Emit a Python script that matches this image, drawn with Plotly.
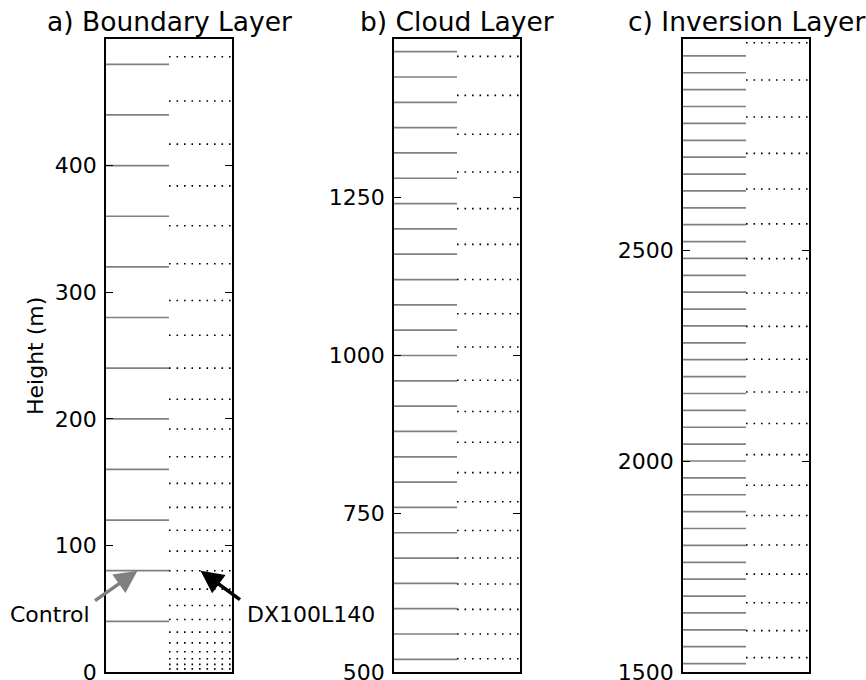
import plotly.graph_objects as go

# Model level heights (m)
control_levels = [
    40, 80, 120, 160, 200, 240, 280, 320, 360, 400, 440, 480, 520, 560, 600,
    640, 680, 720, 760, 800, 840, 880, 920, 960, 1000, 1040, 1080, 1120, 1160,
    1200, 1240, 1280, 1320, 1360, 1400, 1440, 1480, 1520, 1560, 1600, 1640,
    1680, 1720, 1760, 1800, 1840, 1880, 1920, 1960, 2000, 2040, 2080, 2120,
    2160, 2200, 2240, 2280, 2320, 2360, 2400, 2440, 2480, 2520, 2560, 2600,
    2640, 2680, 2720, 2760, 2800, 2840, 2880, 2920, 2960,
]
dx_levels = [
    2.5, 6, 10.5, 16, 23, 31.5, 41.5, 52.5, 65.5, 80, 95.5, 112, 130, 149,
    170, 192, 215.5, 240, 266, 293.5, 322.5, 352.5, 384, 417, 451, 486, 521,
    560, 599, 639, 680, 723.5, 769, 815, 863, 911.5, 961, 1013.5, 1066, 1120,
    1175.5, 1232, 1290, 1349.5, 1411, 1472.5, 1534, 1598, 1664, 1732, 1801,
    1871, 1942.5, 2015, 2089, 2163.5, 2241, 2319, 2398, 2479.5, 2562, 2644.5,
    2729, 2815, 2903, 2991,
]

panel_titles = ["a) Boundary Layer", "b) Cloud Layer", "c) Inversion Layer"]
panel_ranges = [[0, 500], [500, 1500], [1500, 3000]]
panel_ticks = [[0, 100, 200, 300, 400], [500, 750, 1000, 1250], [1500, 2000, 2500]]

W, H = 866, 680
x_domains = [[106 / W, 232 / W], [394 / W, 520 / W], [683 / W, 809 / W]]
y_domain = [1 - 672 / H, 1 - 39 / H]
FONT = "DejaVu Sans"


def segments(levels, x0, x1, lo, hi):
    xs, ys = [], []
    for z in levels:
        if lo < z < hi:
            xs += [x0, x1, None]
            ys += [z, z, None]
    return xs, ys


fig = go.Figure()
for i in range(3):
    lo, hi = panel_ranges[i]
    xa = "x" if i == 0 else f"x{i + 1}"
    ya = "y" if i == 0 else f"y{i + 1}"
    cx, cy = segments(control_levels, 0, 0.5, lo, hi)
    fig.add_trace(go.Scatter(x=cx, y=cy, mode="lines", xaxis=xa, yaxis=ya,
                             line=dict(color="#808080", width=1.7),
                             showlegend=False, hoverinfo="skip"))
    dx, dy = segments(dx_levels, 0.5, 1.0, lo, hi)
    fig.add_trace(go.Scatter(x=dx, y=dy, mode="lines", xaxis=xa, yaxis=ya,
                             line=dict(color="black", width=1.6, dash="1.6px,5.9px"),
                             showlegend=False, hoverinfo="skip"))

    sfx = "" if i == 0 else str(i + 1)
    fig.update_layout({
        f"xaxis{sfx}": dict(domain=x_domains[i], range=[0, 1], anchor=ya,
                            automargin=False,
                            showgrid=False, zeroline=False,
                            showticklabels=False, ticks="",
                            showline=True, mirror=True, linecolor="black",
                            linewidth=1.8, fixedrange=True),
        f"yaxis{sfx}": dict(domain=y_domain, range=panel_ranges[i], anchor=xa,
                            automargin=False,
                            tickvals=panel_ticks[i],
                            ticktext=[str(t) for t in panel_ticks[i]],
                            showgrid=False, zeroline=False, showline=True,
                            mirror="ticks", linecolor="black", linewidth=1.8,
                            ticks="inside", ticklen=7, tickwidth=1,
                            tickcolor="black", ticklabelstandoff=3,
                            ticklabeloverflow="allow",
                            tickfont=dict(family=FONT, size=22, color="black"),
                            fixedrange=True),
    })
    fig.add_annotation(x=sum(x_domains[i]) / 2, y=1 - 21 / H, xref="paper",
                       yref="paper", text=panel_titles[i], showarrow=False,
                       xanchor="center", yanchor="middle",
                       font=dict(family=FONT, size=26.5, color="black"))

# Axis label
fig.add_annotation(x=35 / W, y=1 - 356 / H, xref="paper", yref="paper",
                   text="Height (m)", textangle=-90, showarrow=False,
                   xanchor="center", yanchor="middle",
                   font=dict(family=FONT, size=22, color="black"))

# Arrows pointing at the 80 m level of each grid
fig.add_annotation(x=0.25, y=80, xref="x", yref="y", text="", showarrow=True,
                   ax=-44, ay=31, arrowhead=2, arrowsize=1.3, arrowwidth=3.5,
                   arrowcolor="#808080")
fig.add_annotation(x=50 / W, y=1 - 614 / H, xref="paper", yref="paper",
                   text="Control", showarrow=False, xanchor="center",
                   yanchor="middle", font=dict(family=FONT, size=22, color="black"))
fig.add_annotation(x=0.75, y=80, xref="x", yref="y", text="", showarrow=True,
                   ax=41, ay=30, arrowhead=2, arrowsize=1.3, arrowwidth=3.5,
                   arrowcolor="black")
fig.add_annotation(x=245 / W, y=1 - 614 / H, xref="paper", yref="paper",
                   text="DX100L140", showarrow=False, xanchor="left",
                   yanchor="middle", font=dict(family=FONT, size=22, color="black"))

fig.update_layout(width=W, height=H, margin=dict(l=0, r=0, t=0, b=0),
                  paper_bgcolor="white", plot_bgcolor="white",
                  font=dict(family=FONT, color="black"))

fig.write_html("out.html")
